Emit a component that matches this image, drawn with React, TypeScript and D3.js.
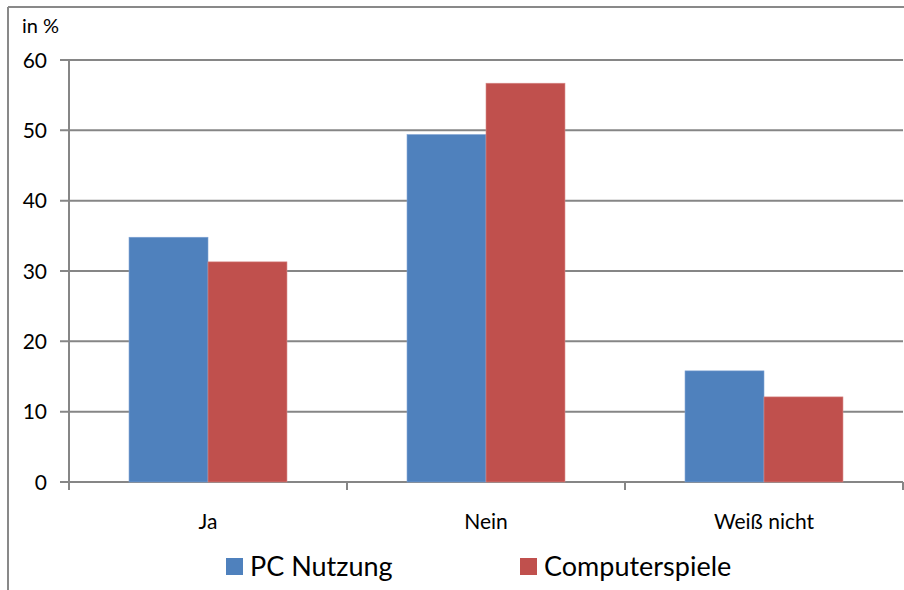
import React from 'react'
import * as d3 from 'd3'

const categories = ['Ja', 'Nein', 'Weiß nicht']
const seriesNames = ['PC Nutzung', 'Computerspiele']
const pcNutzung = [34.8, 49.4, 15.8]
const computerspiele = [31.3, 56.7, 12.1]
const yTicks = [0, 10, 20, 30, 40, 50, 60]
const colors = ['#4F81BD', '#C0504D']

const W = 904
const H = 590
const left = 69
const right = 903
const top = 60
const bottom = 482
const font = 'Lato, "Open Sans", sans-serif'

const App = () => {
  const x = d3.scaleBand().domain(categories).range([left, right])
  const inner = d3
    .scaleBand()
    .domain(seriesNames)
    .range([0, x.bandwidth()])
    .paddingInner(0)
    .paddingOuter(0.76)
  const y = d3.scaleLinear().domain([0, 60]).range([bottom, top])
  const series = [pcNutzung, computerspiele]
  const grid = '#868686'

  return (
    <svg
      width={W}
      height={H}
      style={{ position: 'absolute', left: 0, top: 0, background: '#fff' }}
    >
      {/* chart frame */}
      <line x1={8} x2={8} y1={7} y2={H} stroke="#898989" strokeWidth={2} />
      <line x1={8} x2={W} y1={7} y2={7} stroke="#898989" strokeWidth={2} />

      {yTicks.map((t) => (
        <g key={t}>
          <line x1={left - 9} x2={right} y1={y(t)} y2={y(t)} stroke={grid} strokeWidth={2} />
          <text
            x={47}
            y={y(t)}
            dy="0.36em"
            textAnchor="end"
            fontFamily={font}
            fontSize={21}
            fill="#000"
          >
            {t}
          </text>
        </g>
      ))}
      <line x1={left} x2={left} y1={top} y2={bottom + 8} stroke={grid} strokeWidth={2} />
      {categories.map((c) => (
        <line
          key={'t' + c}
          x1={(x(c) as number) + x.bandwidth()}
          x2={(x(c) as number) + x.bandwidth()}
          y1={bottom}
          y2={bottom + 8}
          stroke={grid}
          strokeWidth={2}
        />
      ))}

      {series.map((vals, s) =>
        categories.map((c, i) => (
          <rect
            key={s + c}
            x={(x(c) as number) + (inner(seriesNames[s]) as number)}
            y={y(vals[i])}
            width={inner.bandwidth()}
            height={bottom - y(vals[i])}
            fill={colors[s]}
            stroke={s === 0 ? '#7FA3D3' : '#D88A88'}
            strokeWidth={0.6}
          />
        ))
      )}

      {categories.map((c) => (
        <text
          key={'l' + c}
          x={(x(c) as number) + x.bandwidth() / 2}
          y={529}
          textAnchor="middle"
          fontFamily={font}
          fontSize={21}
          fill="#000"
        >
          {c}
        </text>
      ))}

      <text x={22} y={33} fontFamily={font} fontSize={20} fill="#000">
        in %
      </text>

      {seriesNames.map((n, s) => (
        <g key={n} transform={`translate(${s === 0 ? 226 : 520},558)`}>
          <rect width={17} height={17} fill={colors[s]} />
          <text x={24} y={18} fontFamily={font} fontSize={27} fill="#000">
            {n}
          </text>
        </g>
      ))}
    </svg>
  )
}

export default App
